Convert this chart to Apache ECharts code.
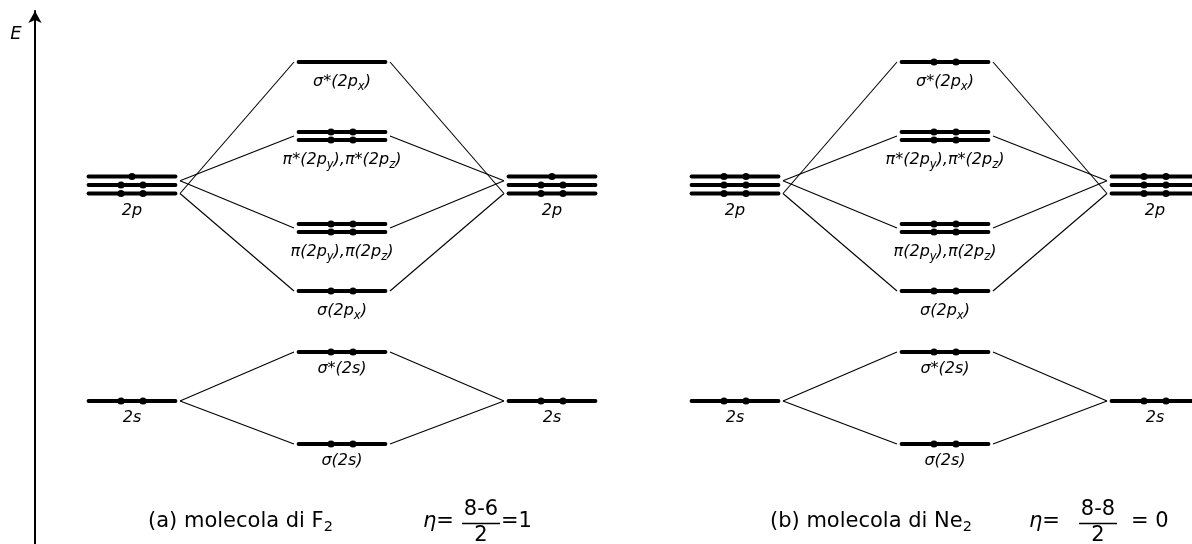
<!DOCTYPE html>
<html><head><meta charset="utf-8">
<script src="https://cdn.jsdelivr.net/npm/echarts@6/dist/echarts.min.js"></script>
<style>html,body{margin:0;padding:0;background:#fff}#c{width:1192px;height:544px}</style>
</head><body><div id="c"></div>
<script>
// ---------------- data ----------------
const panels = ['F2', 'Ne2'];
const atomLevelNames = ['2s', '2p'];
const atomLevelEnergy = [143, 359];
const atomLevelLines = [1, 3];
const moLevelNames = ['σ(2s)', 'σ*(2s)', 'σ(2p_x)', 'π(2p_y),π(2p_z)', 'π*(2p_y),π*(2p_z)', 'σ*(2p_x)'];
const moLevelEnergy = [100, 192, 253, 316, 408, 482];
const moLevelLines = [1, 1, 1, 2, 2, 1];
const moFromAtom = [0, 0, 1, 1, 1, 1];
const moType = ['s', 's', 'sigma', 'pi', 'pi', 'sigma'];
// electrons on each line of a level, bottom line first
const f2AtomElectrons = [[2], [2, 2, 1]];
const f2MoElectrons = [[2], [2], [2], [2, 2], [2, 2], [0]];
const ne2AtomElectrons = [[2], [2, 2, 2]];
const ne2MoElectrons = [[2], [2], [2], [2, 2], [2, 2], [2]];
const panelTitles = ['(a) molecola di F', '(b) molecola di Ne'];
const bondNumerators = ['8-6', '8-8'];
const bondResults = ['=1', '= 0'];

// ---------------- layout / style ----------------
const FONT = 'DejaVu Sans';
const COL_ATOM_L = 132, COL_MO = 342, COL_ATOM_R = 552, PANEL_SHIFT = 603;
const HALF = 43.5;          // half length of a level line (axis units)
const LEVEL_W = 3.8, DOT_R = 3.6, DOT_DX = 11;
const GAP3 = 8.5, GAP2 = 8;
const CONN_PAD = 4.5;

function gapFor(n) { return n === 3 ? GAP3 : GAP2; }
function richLabel(s) {
  return s.split(/(_\w)/).filter(t => t).map(t => t[0] === '_' ? '{s|' + t.slice(1) + '}' : '{m|' + t + '}').join('');
}
const LABEL_RICH = {
  m: { fontFamily: FONT, fontStyle: 'italic', fontSize: 16, fill: '#000' },
  s: { fontFamily: FONT, fontStyle: 'italic', fontSize: 11.5, padding: [10, 0, 0, 0], fill: '#000' }
};

const levelItems = [];
const connItems = [];
panels.forEach((pn, pi) => {
  const sh = pi * PANEL_SHIFT;
  const aEl = pi === 0 ? f2AtomElectrons : ne2AtomElectrons;
  const mEl = pi === 0 ? f2MoElectrons : ne2MoElectrons;
  [COL_ATOM_L, COL_ATOM_R].forEach(cx => {
    atomLevelNames.forEach((nm, li) => {
      levelItems.push({ x: cx + sh, e: atomLevelEnergy[li], lines: atomLevelLines[li], el: aEl[li], label: nm });
    });
  });
  moLevelNames.forEach((nm, mi) => {
    levelItems.push({ x: COL_MO + sh, e: moLevelEnergy[mi], lines: moLevelLines[mi], el: mEl[mi], label: nm });
    const ai = moFromAtom[mi];
    [[COL_ATOM_L, 1], [COL_ATOM_R, -1]].forEach(([cx, side]) => {
      connItems.push({ ax: cx + sh, ae: atomLevelEnergy[ai], alines: atomLevelLines[ai], mx: COL_MO + sh, me: moLevelEnergy[mi], side, type: moType[mi] });
    });
  });
});

function renderLevel(params, api) {
  const it = levelItems[params.dataIndex];
  const c = api.coord([it.x, it.e]);
  const l = api.coord([it.x - HALF, it.e]);
  const r = api.coord([it.x + HALF, it.e]);
  const g = gapFor(it.lines);
  const children = [];
  let bottomY = c[1];
  for (let i = 0; i < it.lines; i++) {
    const y = c[1] + ((it.lines - 1) / 2 - i) * g;
    if (i === 0) bottomY = y;
    children.push({ type: 'line', shape: { x1: l[0], y1: y, x2: r[0], y2: y }, style: { stroke: '#000', lineWidth: LEVEL_W, lineCap: 'round' } });
    const n = it.el[i];
    const xs = n === 2 ? [c[0] - DOT_DX, c[0] + DOT_DX] : n === 1 ? [c[0]] : [];
    xs.forEach(x => children.push({ type: 'circle', shape: { cx: x, cy: y, r: DOT_R }, style: { fill: '#000' } }));
  }
  children.push({ type: 'text', x: c[0], y: bottomY + 9, style: { text: richLabel(it.label), rich: LABEL_RICH, align: 'center', verticalAlign: 'top', fontFamily: FONT, fill: '#000' } });
  return { type: 'group', children };
}

function renderConn(params, api) {
  const it = connItems[params.dataIndex];
  const a = api.coord([it.ax + it.side * HALF, it.ae]);
  const m = api.coord([it.mx - it.side * HALF, it.me]);
  let ay = a[1];
  if (it.alines === 3) {
    const g = gapFor(3);
    ay = it.type === 'pi' ? a[1] - g / 2 : a[1] + g;
  }
  return { type: 'line', shape: { x1: a[0] + it.side * CONN_PAD, y1: ay, x2: m[0] - it.side * CONN_PAD, y2: m[1] }, style: { stroke: '#000', lineWidth: 1.1 } };
}

const TITLE_RICH = {
  t: { fontFamily: FONT, fontSize: 21, fill: '#000' },
  ts: { fontFamily: FONT, fontSize: 14.5, padding: [11, 0, 0, 0], fill: '#000' },
  i: { fontFamily: FONT, fontStyle: 'italic', fontSize: 21, fill: '#000' }
};
const graphics = [
  { type: 'text', x: 16, y: 34, style: { text: 'E', fontFamily: FONT, fontStyle: 'italic', fontSize: 18, align: 'center', verticalAlign: 'middle', fill: '#000' } }
];
const titleX = [148, 770], etaX = [423, 1029], fracX = [481, 1098], resX = [501, 1131];
panels.forEach((pn, pi) => {
  graphics.push({ type: 'text', x: titleX[pi], y: 522, style: { text: '{t|' + panelTitles[pi] + '}{ts|2}', rich: TITLE_RICH, align: 'left', verticalAlign: 'middle' } });
  graphics.push({ type: 'text', x: etaX[pi], y: 522, style: { text: '{i|η}{t|=}', rich: TITLE_RICH, align: 'left', verticalAlign: 'middle' } });
  graphics.push({ type: 'text', x: fracX[pi], y: 510, style: { text: bondNumerators[pi], fontFamily: FONT, fontSize: 21, align: 'center', verticalAlign: 'middle', fill: '#000' } });
  graphics.push({ type: 'line', shape: { x1: fracX[pi] - 19, y1: 523.5, x2: fracX[pi] + 19, y2: 523.5 }, style: { stroke: '#000', lineWidth: 1.3 } });
  graphics.push({ type: 'text', x: fracX[pi], y: 536, style: { text: '2', fontFamily: FONT, fontSize: 21, align: 'center', verticalAlign: 'middle', fill: '#000' } });
  graphics.push({ type: 'text', x: resX[pi], y: 522, style: { text: bondResults[pi], fontFamily: FONT, fontSize: 21, align: 'left', verticalAlign: 'middle', fill: '#000' } });
});

const chart = echarts.init(document.getElementById('c'));
chart.setOption({
  animation: false,
  backgroundColor: '#fff',
  grid: { left: 35, right: 0, top: 11, bottom: 0, containLabel: false },
  xAxis: { type: 'value', min: 35, max: 1192, show: false },
  yAxis: {
    type: 'value', min: 0, max: 533,
    axisLine: { show: true, onZero: false, symbol: ['none', 'arrow'], symbolSize: [10, 12], lineStyle: { color: '#000', width: 2 } },
    axisTick: { show: false }, axisLabel: { show: false }, splitLine: { show: false }
  },
  graphic: graphics,
  series: [
    { type: 'custom', name: 'connessioni', silent: true, renderItem: renderConn, data: connItems.map(c => [c.ax, c.ae, c.mx, c.me]), encode: { x: [0, 2], y: [1, 3] }, clip: false },
    { type: 'custom', name: 'livelli', silent: true, renderItem: renderLevel, data: levelItems.map(l => [l.x, l.e]), encode: { x: 0, y: 1 }, clip: false }
  ]
});
</script></body></html>
